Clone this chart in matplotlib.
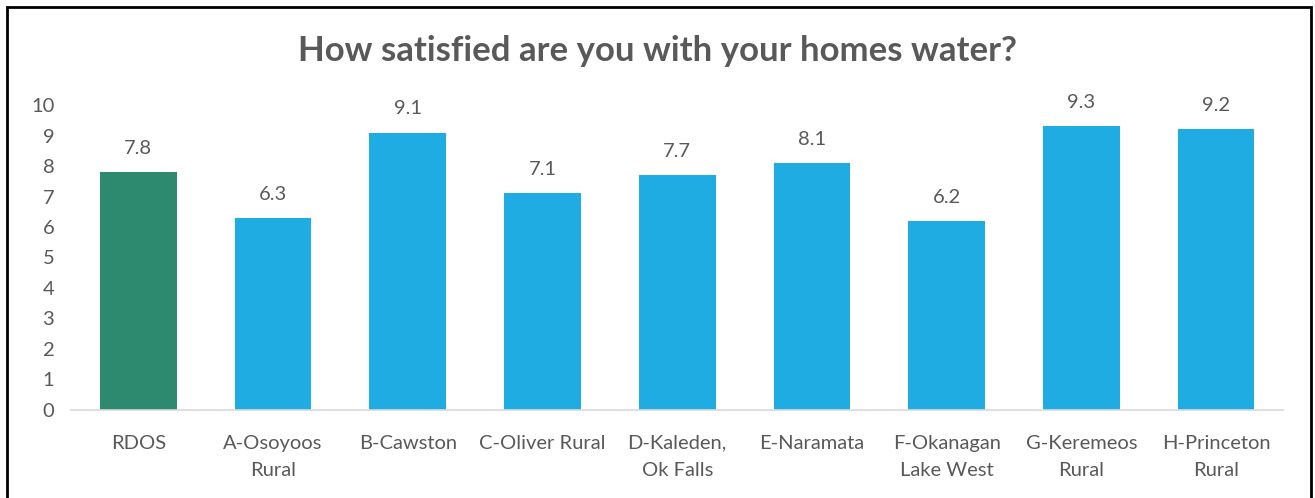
import matplotlib.pyplot as plt
from matplotlib.patches import Rectangle

plt.rcParams['font.family'] = ['Lato', 'DejaVu Sans']

# Average satisfaction score per area
areas = ['RDOS', 'A-Osoyoos\nRural', 'B-Cawston', 'C-Oliver Rural', 'D-Kaleden,\nOk Falls',
         'E-Naramata', 'F-Okanagan\nLake West', 'G-Keremeos\nRural', 'H-Princeton\nRural']
scores = [7.8, 6.3, 9.1, 7.1, 7.7, 8.1, 6.2, 9.3, 9.2]
bar_colors = ['#2E8A6E'] + ['#1EACE3'] * 8
yticks = list(range(0, 11))

txt = '#595959'

fig = plt.figure(figsize=(13.15, 4.98), dpi=100)
ax = fig.add_axes([0.054, 0.177, 0.922, 0.612])

x = range(len(areas))
bars = ax.bar(x, scores, width=0.57, color=bar_colors)
for b, v in zip(bars, scores):
    ax.text(b.get_x() + b.get_width() / 2, v + 0.5, f'{v:.1f}', ha='center', va='bottom',
            fontsize=14.5, color=txt)

ax.set_xlim(-0.5, len(areas) - 0.5)
ax.set_ylim(0, 10)
ax.set_yticks(yticks)
ax.set_xticks(list(x))
ax.set_xticklabels(areas, fontsize=14.5, color=txt, linespacing=1.75)
ax.tick_params(axis='y', labelsize=14.5, labelcolor=txt, length=0, pad=12)
ax.tick_params(axis='x', length=0, pad=18)
for s in ['top', 'right', 'left']:
    ax.spines[s].set_visible(False)
ax.spines['bottom'].set_color('#D9D9D9')
ax.spines['bottom'].set_linewidth(1.2)

fig.text(0.5, 0.898, 'How satisfied are you with your homes water?', ha='center', va='center',
         fontsize=25, fontweight='bold', color=txt)

# outer frame
fig.patches.append(Rectangle((7 / 1315, -0.1), 1304 / 1315, 1 - 7 / 498 + 0.1,
                             transform=fig.transFigure, fill=False, edgecolor='black',
                             linewidth=2))

fig.savefig('out.png', dpi=100)
